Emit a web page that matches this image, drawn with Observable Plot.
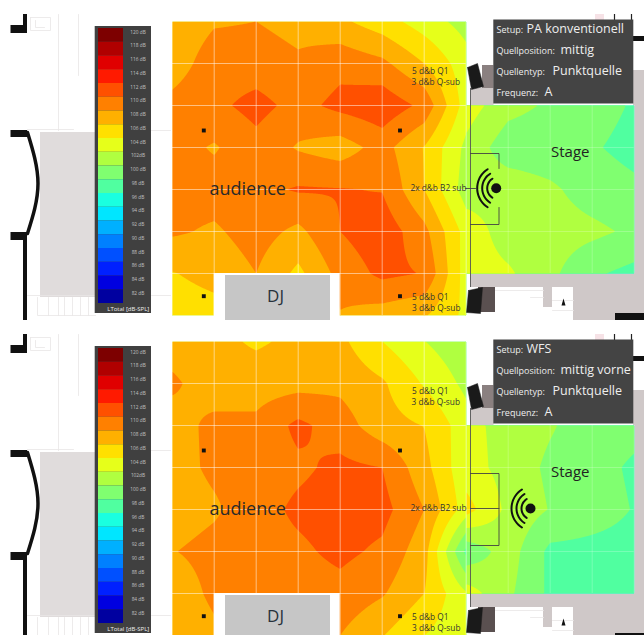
<!DOCTYPE html>
<html><head><meta charset="utf-8">
<script src="https://cdn.jsdelivr.net/npm/d3@7"></script>
<script src="https://cdn.jsdelivr.net/npm/@observablehq/plot@0.6"></script>
<style>html,body{margin:0;padding:0;background:#fff}svg{display:block}</style>
</head><body><div id="chart"></div>
<script>
// SPL scale (dB) and its colours
const levels = [120,118,116,114,112,110,108,106,104,102,100,98,96,94,92,90,88,86,84,82];
const levelColors = ["#7d0000","#b00000","#e00000","#ff1a00","#ff5000","#ff8000","#ffb000","#ffe000","#e6ff1a","#b0ff40","#80ff70","#50ffa0","#1affe0","#00e6ff","#00b0ff","#0080ff","#0050ff","#0020ff","#0000e0","#0000a0"];
const levelLabels = levels.map(d => d === 102 ? "102dB" : d + " dB");

// Measured level at the audience grid nodes (8 rows × 8 columns), setup 1
const audiencePA = [
 [108.6,109.8,110.0,109.4,108.4,106.9,105.0,103.2],
 [109.0,111.0,110.9,110.3,111.4,110.5,108.0,104.8],
 [110.6,111.5,112.7,111.3,112.6,113.4,111.5,105.0],
 [110.8,109.8,111.3,109.8,109.0,110.8,107.9,103.5],
 [110.8,110.9,111.45,112.2,112.1,111.9,108.0,103.0],
 [110.3,109.7,110.9,109.5,112.0,113.3,110.6,105.2],
 [107.9,108.6,110.0,107.5,110.7,112.5,111.9,105.0],
 [107.0,107.3,108.0,107.0,109.9,109.0,108.2,105.5]];
// Stage grid nodes (5 rows × 5 columns), setup 1
const stagePA = [
 [105.0,102.7,101.7,100.8,99.8],
 [103.5,100.8,100.6,100.2,99.4],
 [103.0,103.3,102.4,101.0,100.4],
 [105.2,103.0,103.0,102.5,101.6],
 [105.0,104.3,102.5,100.3,99.4]];
// Setup 2
const audienceWFS = [
 [109.0,108.6,107.7,108.5,108.5,106.0,104.05,102.5],
 [110.4,108.8,109.1,109.3,109.5,108.3,105.8,103.5],
 [109.0,110.6,110.45,112.5,111.0,108.75,107.95,104.85],
 [109.2,110.4,111.0,111.6,112.5,112.0,108.7,104.5],
 [108.9,109.7,111.2,112.4,113.0,112.7,110.0,105.0],
 [109.9,110.7,111.2,111.6,112.5,111.6,108.8,99.5],
 [108.6,110.5,111.0,111.0,111.3,110.2,108.0,104.2],
 [108.2,109.5,110.0,110.0,110.0,108.1,106.0,104.5]];
const stageWFS = [
 [104.6,103.3,102.2,101.0,100.6],
 [104.9,103.2,101.6,100.7,99.7],
 [106.8,103.5,101.9,100.9,99.9],
 [100.5,103.0,99.5,99.4,99.3],
 [105.0,102.4,99.6,99.2,99.0]];

const panels = [
 {offset: 0, audience: audiencePA, stage: stagePA, speaker: [495.7,187.7], closedBox: false,
  info: ["PA konventionell","mittig","Punktquelle","A"]},
 {offset: 320, audience: audienceWFS, stage: stageWFS, speaker: [530,508-320], closedBox: true,
  info: ["WFS","mittig vorne","Punktquelle","A"]}
];
const infoKeys = ["Setup:","Quellposition:","Quellentyp:","Frequenz:"];
const infoX = [526,560,552,544];
const speakerLabels = [["5 d&b Q1",411.5,71.3],["3 d&b Q-sub",411,82.3],["2x d&b B2 sub",410,188],["5 d&b Q1",411.5,296.7],["3 d&b Q-sub",411.5,307.7]];
const markers = [[203.3,130],[399.5,130],[203.3,295.7],[399.5,295.7]];

// floor plan: x1,y1,x2,y2,fill
const floor = [
 [40,132,95,297,"#e0dcdc"],
 [470,88,493.5,105,"#cfc8c8"],[482,65,493.5,88,"#8a8080"],[633,70,644,320,"#cfc8c8"],
 [470,273,633,287,"#cfc8c8"],[478,287,495,312,"#5a5050"],[543,287,552,307,"#cfc8c8"],
 [573,287,633,320,"#cfc8c8"],[471,90,476,105,"#cfc8c8"],
 [10.5,130,27,137,"#111"],[10.5,232,27,240,"#111"],[23,240,27,320,"#111"],
 [10.5,25,27,33,"#111"],[23,14,27,33,"#111"],[615,313,644,320,"#111"],[633,36,644,41,"#111"],
 [595,14,604,20,"#f6e2e6"]
];
const faint = [
 [[30,17],[50,17],[50,30],[30,30],[30,17]],[[35,20],[35,27],[44,27]],
 [[58,14],[58,130]],[[78,14],[78,75]],[[27,129],[73,129]],[[27,295],[95,295]],
 [[37,297],[37,315],[95,315]],[[48,297],[48,315]],[[58,297],[58,315]],[[64,297],[64,315]],[[72,297],[72,315]],[[80,297],[80,315]],[[88,297],[88,315]],
 [[151,130],[170,130]],[[151,295],[170,295]],[[495,290],[543,290]],[[530,297],[543,297]],
 [[552,300],[573,300]],[[552,310],[573,310]]
];
const speakerShapes = [
 [[467,67],[477,63],[483,86],[471,89]],
 [[468,290],[482,287],[480,313],[466,312]]
];

const X0 = 171.7, Y0 = 21, STEP = 42;
const thresholds = levels.filter(d => d >= 96 && d <= 114).sort(d3.ascending);

function bilinear(index, w, h, X, Y, V) {
  const I = Array.from(index);
  const xs = [...new Set(I.map(i => X[i]))].sort(d3.ascending);
  const ys = [...new Set(I.map(i => Y[i]))].sort(d3.ascending);
  const val = new Map(I.map(i => [X[i] + "," + Y[i], V[i]]));
  const out = new Float64Array(w * h);
  const bx = d3.bisector(d => d).right;
  for (let j = 0; j < h; ++j) {
    const py = j + 0.5;
    const b = Math.min(Math.max(bx(ys, py) - 1, 0), ys.length - 2);
    const t = Math.min(Math.max((py - ys[b]) / (ys[b+1] - ys[b]), 0), 1);
    for (let i = 0; i < w; ++i) {
      const px = i + 0.5;
      const a = Math.min(Math.max(bx(xs, px) - 1, 0), xs.length - 2);
      const s = Math.min(Math.max((px - xs[a]) / (xs[a+1] - xs[a]), 0), 1);
      const v00 = val.get(xs[a]+","+ys[b]), v10 = val.get(xs[a+1]+","+ys[b]);
      const v01 = val.get(xs[a]+","+ys[b+1]), v11 = val.get(xs[a+1]+","+ys[b+1]);
      out[j*w+i] = (1-t)*((1-s)*v00+s*v10) + t*((1-s)*v01+s*v11);
    }
  }
  return out;
}
function heat(matrix, col0, row0, dy) {
  const nodes = matrix.flatMap((row, r) => row.map((v, c) => ({x: X0 + (col0 + c) * STEP, y: Y0 + dy + (row0 + r) * STEP, v})));
  return Plot.contour(nodes, {
    x: "x", y: "y", value: "v", fill: "value", thresholds, interpolate: bilinear, pixelSize: 1, smooth: true,
    x1: X0 + col0 * STEP, x2: X0 + (col0 + matrix[0].length - 1) * STEP,
    y1: Y0 + dy + row0 * STEP, y2: Y0 + dy + (row0 + matrix.length - 1) * STEP, stroke: "none"
  });
}
const txt = (rows, o) => Plot.text(rows, {x: d => d[1], y: d => d[2], text: d => d[0], fontFamily: "Open Sans", textAnchor: "start", ...o});

function panelMarks(p) {
  const dy = p.offset;
  const sy = v => v + dy;
  const shift = pts => pts.map(([x, y]) => ({x, y: y + dy}));
  const legendRows = levels.map((l, i) => ({l, i, color: levelColors[i], label: levelLabels[i]}));
  const [sx, syy] = p.speaker;
  const arcs = [[9, 9.5], [14, 14.5], [19, 19]].map(([back, half]) => {
    const R = half / Math.sin(Math.PI * 0.32), cx = sx - back + R;
    return d3.range(-1, 1.01, 0.2).map(t => ({x: cx - R * Math.cos(t * Math.PI * 0.32), y: sy(syy) + R * Math.sin(t * Math.PI * 0.32)}));
  });
  const boxLines = p.closedBox
    ? [[[470,153],[498.5,153],[498.5,225],[470,225]], [[470,188],[498.5,188]]]
    : [[[470,153],[498.5,153],[498.5,168]], [[498.5,207],[498.5,224],[470,224]], [[465,188],[475,188]]];
  return [
    Plot.rect(floor, {x1: d => d[0], y1: d => d[1] + dy, x2: d => d[2], y2: d => d[3] + dy, fill: d => d[4]}),
    faint.map(f => Plot.line(shift(f), {x: "x", y: "y", stroke: "#e8e6e6", strokeWidth: 0.8})),
    Plot.line(shift([[27,132],[37.5,183],[27,233]]), {x: "x", y: "y", curve: "natural", stroke: "#111", strokeWidth: 3.5}),
    heat(p.audience, 0, 0, dy),
    heat(p.stage, 7, 2, dy),
    // white measuring grid
    Plot.ruleX(d3.range(8), {x: d => X0 + d * STEP, y1: sy(Y0), y2: sy(Y0 + 7 * STEP), stroke: "#fff", strokeOpacity: 0.5, strokeWidth: 1}),
    Plot.ruleY(d3.range(8), {y: d => sy(Y0 + d * STEP), x1: X0, x2: X0 + 7 * STEP, stroke: "#fff", strokeOpacity: 0.5, strokeWidth: 1}),
    Plot.ruleX(d3.range(8, 12), {x: d => X0 + d * STEP, y1: sy(Y0 + 2 * STEP), y2: sy(Y0 + 6 * STEP), stroke: "#fff", strokeOpacity: 0.22}),
    Plot.ruleY(d3.range(3, 6), {y: d => sy(Y0 + d * STEP), x1: X0 + 7 * STEP, x2: X0 + 11 * STEP, stroke: "#fff", strokeOpacity: 0.22}),
    // DJ
    Plot.rect([0], {x1: X0 + STEP, x2: X0 + 4 * STEP, y1: sy(Y0 + 6 * STEP), y2: sy(320), fill: "#fff"}),
    Plot.rect([0], {x1: 225, x2: 330, y1: sy(275), y2: sy(320), fill: "#c6c6c6"}),
    txt([["DJ", 275, sy(296)]], {textAnchor: "middle", fontSize: 17, fill: "#26323c"}),
    // legend
    Plot.rect([0], {x1: 94.7, x2: 151, y1: sy(26), y2: sy(313), fill: "#404040"}),
    Plot.rect(legendRows, {x1: 98, x2: 123, y1: d => sy(28 + d.i * 13.75), y2: d => sy(28 + (d.i + 1) * 13.75), fill: d => d.color}),
    Plot.text(legendRows, {x: 137.5, y: d => sy(31.5 + d.i * 13.75), text: "label", fill: "#c0c0c0", fontSize: 4.8, fontFamily: "Open Sans"}),
    Plot.text(["LTotal [dB-SPL]"], {x: 127.8, y: sy(308.5), text: d => d, fill: "#eee", fontSize: 6, fontFamily: "Open Sans"}),
    // stage furniture
    Plot.ruleX([470], {y1: sy(88), y2: sy(287), stroke: "#555", strokeWidth: 0.9}),
    boxLines.map(b => Plot.line(shift(b), {x: "x", y: "y", stroke: "#444", strokeWidth: 0.9})),
    speakerShapes.map(s => Plot.line(shift([...s, s[0]]), {x: "x", y: "y", fill: "#1a1a1a", stroke: "#1a1a1a", strokeWidth: 0.5})),
    Plot.line(shift([[563,298],[565,305],[561,305],[563,298]]), {x: "x", y: "y", fill: "#111", stroke: "none"}),
    Plot.ruleX([614, 631], {y1: sy(14), y2: sy(30), stroke: "#222", strokeWidth: 1.2}),
    // level labels and markers
    Plot.dot(markers, {x: d => d[0], y: d => d[1] + dy, r: 2.2, symbol: "square", fill: "#111"}),
    txt(["audience"].map(t => [t, 209, sy(189)]), {fontSize: 18, fill: "#2a2a2a"}),
    txt(["Stage"].map(t => [t, 550.5, sy(152)]), {fontSize: 15, fill: "#222"}),
    txt(speakerLabels.map(([t, x, y]) => [t, x, sy(y)]), {fontSize: 8.3, fill: "#333"}),
    arcs.map(a => Plot.line(a, {x: "x", y: "y", stroke: "#111", strokeWidth: 2, strokeLinecap: "round", curve: "natural"})),
    Plot.dot([p.speaker], {x: d => d[0], y: d => sy(d[1]), r: 5, fill: "#111"}),
    // info box
    Plot.rect([0], {x1: 493.3, x2: 633.3, y1: sy(19.5), y2: sy(103.5), fill: "#444"}),
    txt(infoKeys.map((k, i) => [k, 496, sy(29.5 + i * 21)]), {fontSize: 9, fill: "#eee"}),
    txt(p.info.map((k, i) => [k, infoX[i], sy(28.5 + i * 21)]), {fontSize: 12.5, fill: "#eee"})
  ];
}

document.getElementById("chart").append(Plot.plot({
  width: 644, height: 635, margin: 0,
  x: {domain: [0, 644], range: [0, 644], axis: null},
  y: {domain: [0, 635], range: [0, 635], axis: null},
  color: {type: "ordinal", domain: levels, range: levelColors},
  marks: panels.map(panelMarks)
}));
</script></body></html>
